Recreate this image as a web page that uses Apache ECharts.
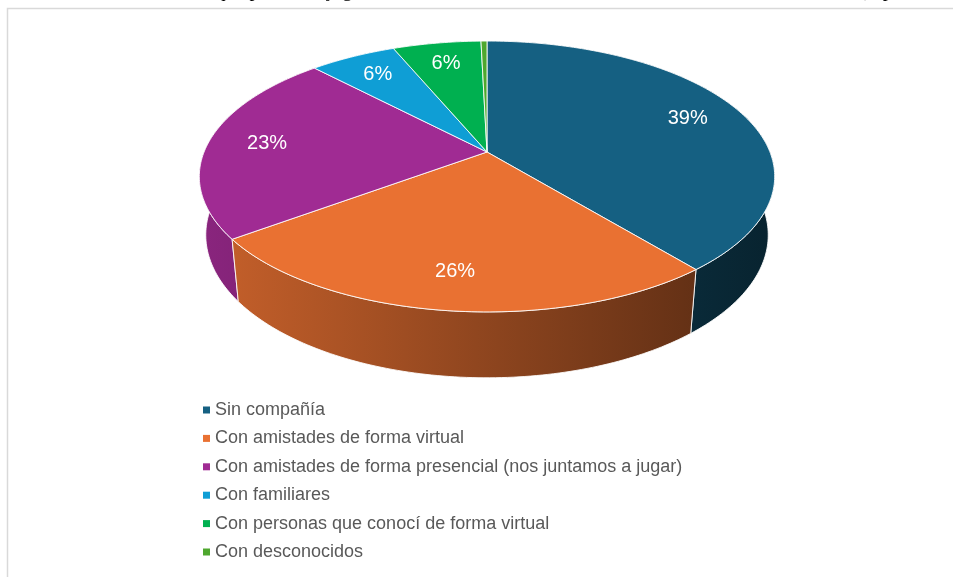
<!DOCTYPE html>
<html>
<head>
<meta charset="utf-8">
<script src="https://cdn.jsdelivr.net/npm/echarts@6.0.0/dist/echarts.min.js"></script>
<style>
html, body { margin: 0; padding: 0; background: #fff; }
#main { width: 953px; height: 577px; }
</style>
</head>
<body>
<div id="main"></div>
<script>
// datos del grafico
const categories = [
  'Sin compañía',
  'Con amistades de forma virtual',
  'Con amistades de forma presencial (nos juntamos a jugar)',
  'Con familiares',
  'Con personas que conocí de forma virtual',
  'Con desconocidos'
];
const values = [39.0, 25.8, 23.0, 5.8, 5.9, 0.4];
const colors = ['#156082', '#E97132', '#A02B93', '#0F9ED5', '#00B050', '#4EA72E'];
const titleText = 'Acerca de la modalidad, con la que prefieren jugar solos o en ambientes del instituto en horas libres o de recreo (especialmente en fin de semana)';

// pie 3d en perspectiva (centro, radio, grosor, camara)
const CX = 487, CY = 152;
const R = 0.204, H = 0.048, F = 1387;
const SIN_A = 0.463, COS_A = 0.886;
const LABEL_T = 0.79;

const total = values.reduce((a, b) => a + b, 0);
const starts = [];
let acc = 0;
for (let v of values) { starts.push(acc); acc += v; }

function proj(phi, t, depth) {
  const X = R * t * Math.sin(phi), Z = -R * t * Math.cos(phi), Y = -H * depth;
  const yc = Y * COS_A - Z * SIN_A, zc = Y * SIN_A + Z * COS_A;
  const w = 1 - zc;
  return [CX + F * X / w, CY - F * yc / w];
}

function shade(hex, k) {
  const n = parseInt(hex.slice(1), 16);
  const r = Math.round(((n >> 16) & 255) * k), g = Math.round(((n >> 8) & 255) * k), b = Math.round((n & 255) * k);
  return 'rgb(' + r + ',' + g + ',' + b + ')';
}

function arc(a1, a2, depth) {
  const n = Math.max(2, Math.ceil((a2 - a1) / (Math.PI / 180)));
  const pts = [];
  for (let i = 0; i <= n; i++) pts.push(proj(a1 + (a2 - a1) * i / n, 1, depth));
  return pts;
}

function renderSlice(params, api) {
  const i = params.seriesIndex;
  const a1 = starts[i] / total * Math.PI * 2;
  const a2 = (starts[i] + api.value(0)) / total * Math.PI * 2;
  const mid = (a1 + a2) / 2;
  const color = colors[i];
  const topArc = arc(a1, a2, 0);
  const side = topArc.concat(arc(a1, a2, 1).reverse());
  const top = [proj(0, 0, 0)].concat(topArc);
  const children = [
    {
      type: 'polygon', z2: 10 + Math.round((1 - Math.cos(mid)) * 10),
      shape: { points: side },
      style: {
        fill: new echarts.graphic.LinearGradient(199, 0, 775, 0, [
          { offset: 0, color: shade(color, 0.86) },
          { offset: 1, color: shade(color, 0.36) }
        ], true),
        stroke: 'rgba(255,255,255,0.85)', lineWidth: 1
      }
    },
    {
      type: 'polygon', z2: 50,
      shape: { points: top },
      style: { fill: color, stroke: 'rgba(255,255,255,0.85)', lineWidth: 1 }
    }
  ];
  const pct = Math.round(api.value(0) / total * 100);
  if (pct >= 1) {
    const p = proj(mid, LABEL_T, 0);
    children.push({
      type: 'text', z2: 60, x: p[0], y: p[1],
      style: {
        text: pct + '%', fill: '#fff', font: '20px "Liberation Sans", Arial, sans-serif',
        align: 'center', verticalAlign: 'middle'
      }
    });
  }
  return { type: 'group', children: children };
}

let option = {
  animation: false,
  color: colors,
  legend: {
    data: categories,
    orient: 'vertical',
    left: 198,
    top: 396,
    icon: 'rect',
    itemWidth: 7,
    itemHeight: 7,
    itemGap: 10.4,
    textStyle: { fontSize: 18, lineHeight: 18, color: '#595959', fontFamily: '"Liberation Sans", Arial, sans-serif' }
  },
  graphic: [
    {
      type: 'rect', silent: true,
      shape: { x: 7.5, y: 8.5, width: 1000, height: 700 },
      style: { fill: 'none', stroke: '#d9d9d9', lineWidth: 1.5 }
    },
    {
      type: 'text', silent: true, left: -37, top: -19,
      style: { text: titleText, font: '20px "Liberation Serif", "Times New Roman", serif', fill: '#000' }
    }
  ],
  series: categories.map((name, i) => ({
    name: name,
    type: 'custom',
    coordinateSystem: 'none',
    renderItem: renderSlice,
    data: [[values[i]]]
  }))
};

const chart = echarts.init(document.getElementById('main'));
chart.setOption(option);
</script>
</body>
</html>
